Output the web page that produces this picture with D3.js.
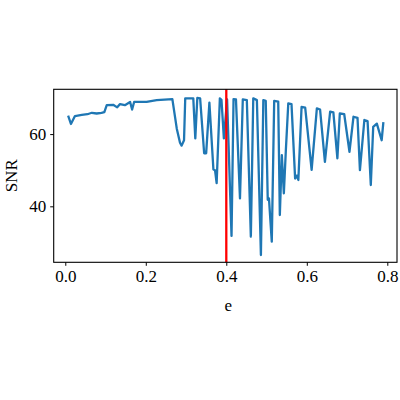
<!DOCTYPE html>
<html lang="en">
<head>
<meta charset="utf-8">
<script src="https://d3js.org/d3.v7.min.js"></script>
<style>
  body { margin: 0; background: #fff; }
</style>
</head>
<body>
<div id="chart"></div>
<script>
// eccentricity values (x) and SNR values (y)
var eVals = [0.008, 0.014, 0.024, 0.041, 0.055, 0.066, 0.078, 0.090, 0.097, 0.103,
  0.119, 0.129, 0.136, 0.148, 0.161, 0.166, 0.171, 0.202, 0.227, 0.266,
  0.277, 0.285, 0.289, 0.295, 0.298, 0.318, 0.323, 0.328, 0.335, 0.345,
  0.350, 0.358, 0.368, 0.372, 0.376, 0.384, 0.388, 0.394, 0.402, 0.413,
  0.418, 0.424, 0.434, 0.441, 0.451, 0.461, 0.467, 0.476, 0.486, 0.492,
  0.498, 0.503, 0.506, 0.513, 0.519, 0.529, 0.533, 0.538, 0.543, 0.548,
  0.554, 0.562, 0.571, 0.575, 0.579, 0.587, 0.596, 0.612, 0.625, 0.633,
  0.645, 0.658, 0.666, 0.676, 0.682, 0.693, 0.706, 0.716, 0.726, 0.732,
  0.743, 0.751, 0.759, 0.765, 0.774, 0.786, 0.790];
var snrVals = [64.8, 62.8, 65.0, 65.3, 65.5, 65.9, 65.7, 65.9, 66.1, 68.0,
  68.1, 67.4, 68.3, 68.0, 68.9, 66.8, 68.9, 68.9, 69.4, 69.7,
  61.5, 57.6, 56.8, 58.3, 69.9, 69.9, 58.8, 70.0, 69.9, 54.7,
  54.7, 68.7, 50.2, 50.0, 46.4, 69.9, 69.5, 58.8, 69.6, 31.8,
  69.7, 69.6, 42.2, 69.6, 69.4, 31.6, 69.9, 69.4, 26.5, 69.4,
  69.2, 41.8, 42.2, 30.2, 69.2, 69.0, 37.6, 54.2, 43.6, 55.6,
  68.5, 68.3, 47.7, 48.5, 47.3, 67.5, 67.3, 50.1, 67.1, 66.8,
  52.3, 66.2, 66.0, 53.3, 65.7, 65.5, 55.1, 64.8, 64.5, 50.0,
  63.9, 63.6, 45.9, 62.0, 62.9, 58.3, 63.0];
var xTicks = [0.0, 0.2, 0.4, 0.6, 0.8];
var yTicks = [40, 60];
var eMarker = 0.4;

var chartW = 400, chartH = 400;
var plotLeft = 53.7, plotRight = 397, plotTop = 89.3, plotBottom = 262.3;
var fontName = "Liberation Serif";

var svg = d3.select("#chart").append("svg")
    .attr("width", chartW).attr("height", chartH)
    .attr("font-family", fontName);

var xScale = d3.scaleLinear().domain([-0.0288, 0.8241]).range([plotLeft, plotRight]);
var yScale = d3.scaleLinear().domain([24.5, 72.4]).range([plotBottom, plotTop]);

var points = eVals.map(function(e, i) { return [e, snrVals[i]]; });

// the curve
svg.append("path")
    .datum(points)
    .attr("fill", "none")
    .attr("stroke", "#1f77b4")
    .attr("stroke-width", 2.3)
    .attr("stroke-linejoin", "round")
    .attr("stroke-linecap", "square")
    .attr("d", d3.line()
        .x(function(d) { return xScale(d[0]); })
        .y(function(d) { return yScale(d[1]); }));

// red marker line
svg.append("line")
    .attr("x1", xScale(eMarker)).attr("x2", xScale(eMarker))
    .attr("y1", plotTop).attr("y2", plotBottom)
    .attr("stroke", "red")
    .attr("stroke-width", 2.3);

// axes
var xAxis = svg.append("g")
    .attr("transform", "translate(0," + plotBottom + ")")
    .call(d3.axisBottom(xScale).tickValues(xTicks).tickFormat(d3.format(".1f"))
        .tickSizeInner(3.5).tickSizeOuter(0).tickPadding(4));
var yAxis = svg.append("g")
    .attr("transform", "translate(" + plotLeft + ",0)")
    .call(d3.axisLeft(yScale).tickValues(yTicks).tickFormat(d3.format("d"))
        .tickSizeInner(3.5).tickSizeOuter(0).tickPadding(4));

[xAxis, yAxis].forEach(function(a) {
    a.attr("font-family", fontName).attr("font-size", 17);
    a.select(".domain").remove();
    a.selectAll("line").attr("stroke", "#000").attr("stroke-width", 1);
    a.selectAll("text").attr("fill", "#000")
        .style("font-family", fontName).style("font-size", "17px");
});

// frame
svg.append("rect")
    .attr("x", plotLeft).attr("y", plotTop)
    .attr("width", plotRight - plotLeft).attr("height", plotBottom - plotTop)
    .attr("fill", "none").attr("stroke", "#000").attr("stroke-width", 1.1);

// axis titles
svg.append("text")
    .attr("x", (plotLeft + plotRight) / 2 + 3)
    .attr("y", 311)
    .attr("text-anchor", "middle")
    .style("font-family", fontName)
    .style("font-size", "17px")
    .text("e");
svg.append("text")
    .attr("transform", "translate(17," + (plotTop + plotBottom) / 2 + ") rotate(-90)")
    .attr("text-anchor", "middle")
    .style("font-family", fontName)
    .style("font-size", "17px")
    .text("SNR");
</script>
</body>
</html>
